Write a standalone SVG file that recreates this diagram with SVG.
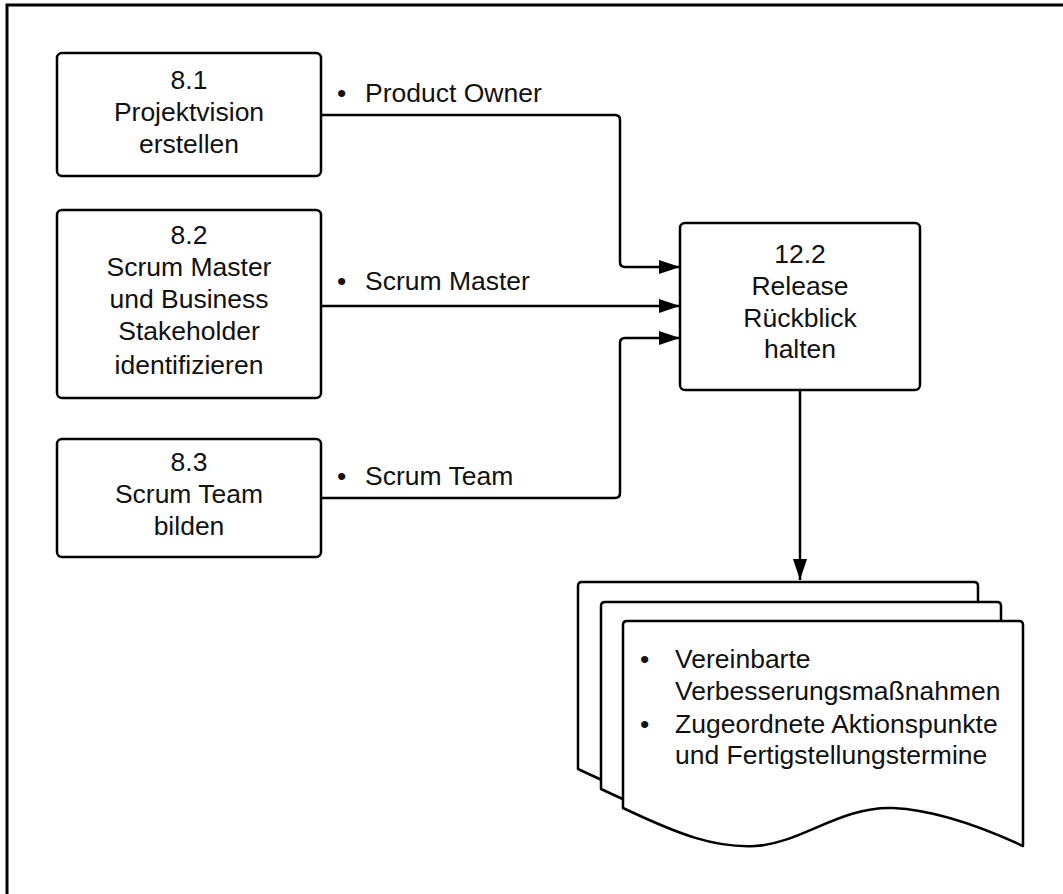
<svg xmlns="http://www.w3.org/2000/svg" width="1063" height="894" viewBox="0 0 1063 894">
  <defs>
    <style>
      .box { fill: #ffffff; stroke: #000000; stroke-width: 2.5; }
      .doc { fill: #ffffff; stroke: #000000; stroke-width: 2.5; stroke-linejoin: round; }
      .conn { fill: none; stroke: #000000; stroke-width: 2.5; }
      .t { font-family: "Liberation Sans", Arial, sans-serif; font-size: 26.5px; fill: #111111; }
      .c { text-anchor: middle; }
    </style>
    <marker id="arrow" markerUnits="userSpaceOnUse" markerWidth="22" markerHeight="16" refX="21" refY="7" orient="auto">
      <path d="M0,0 L21,7 L0,14 Z" fill="#000000"/>
    </marker>
  </defs>

  <rect width="1063" height="894" fill="#ffffff"/>
  <path d="M7,894 V5 H1063" fill="none" stroke="#000000" stroke-width="3"/>

  <g id="connectors">
    <path class="conn" d="M321,115 H615 Q620,115 620,120 V262 Q620,267 625,267 H680" marker-end="url(#arrow)"/>
    <path class="conn" d="M321,306 H680" marker-end="url(#arrow)"/>
    <path class="conn" d="M321,498 H615 Q620,498 620,493 V343 Q620,338 625,338 H680" marker-end="url(#arrow)"/>
    <path class="conn" d="M800,390 V580" marker-end="url(#arrow)"/>
    <g id="labels" class="t">
      <text x="337" y="102">•</text><text x="365" y="102">Product Owner</text>
      <text x="337" y="290">•</text><text x="365" y="290">Scrum Master</text>
      <text x="337" y="485">•</text><text x="365" y="485">Scrum Team</text>
    </g>
  </g>

  <g id="node-8-1">
    <rect class="box" x="57" y="53" width="264" height="123" rx="5"/>
    <text class="t c" x="189" y="89">8.1</text>
    <text class="t c" x="189" y="121">Projektvision</text>
    <text class="t c" x="189" y="153">erstellen</text>
  </g>

  <g id="node-8-2">
    <rect class="box" x="57" y="210" width="264" height="188" rx="5"/>
    <text class="t c" x="189" y="244">8.2</text>
    <text class="t c" x="189" y="276">Scrum Master</text>
    <text class="t c" x="189" y="308">und Business</text>
    <text class="t c" x="189" y="340">Stakeholder</text>
    <text class="t c" x="189" y="374">identifizieren</text>
  </g>

  <g id="node-8-3">
    <rect class="box" x="57" y="439" width="264" height="118" rx="5"/>
    <text class="t c" x="189" y="471">8.3</text>
    <text class="t c" x="189" y="503">Scrum Team</text>
    <text class="t c" x="189" y="535">bilden</text>
  </g>

  <g id="node-12-2">
    <rect class="box" x="680" y="223" width="240" height="167" rx="5"/>
    <text class="t c" x="800" y="263">12.2</text>
    <text class="t c" x="800" y="295">Release</text>
    <text class="t c" x="800" y="327">Rückblick</text>
    <text class="t c" x="800" y="358">halten</text>
  </g>

  <g id="output-documents">
    <path class="doc" transform="translate(-45,-39)" d="M623,625 Q623,621 627,621 H1019 Q1023,621 1023,625 V846 C980,826 935,810 893,808 C840,806 800,844 755,846 C715,848 680,835 623,808 Z"/>
    <path class="doc" transform="translate(-22,-19)" d="M623,625 Q623,621 627,621 H1019 Q1023,621 1023,625 V846 C980,826 935,810 893,808 C840,806 800,844 755,846 C715,848 680,835 623,808 Z"/>
    <path class="doc" d="M623,625 Q623,621 627,621 H1019 Q1023,621 1023,625 V846 C980,826 935,810 893,808 C840,806 800,844 755,846 C715,848 680,835 623,808 Z"/>
    <g class="t">
      <text x="640" y="668">•</text><text x="675" y="668">Vereinbarte</text>
      <text x="675" y="700">Verbesserungsmaßnahmen</text>
      <text x="640" y="733">•</text><text x="675" y="733">Zugeordnete Aktionspunkte</text>
      <text x="675" y="764">und Fertigstellungstermine</text>
    </g>
  </g>
</svg>
